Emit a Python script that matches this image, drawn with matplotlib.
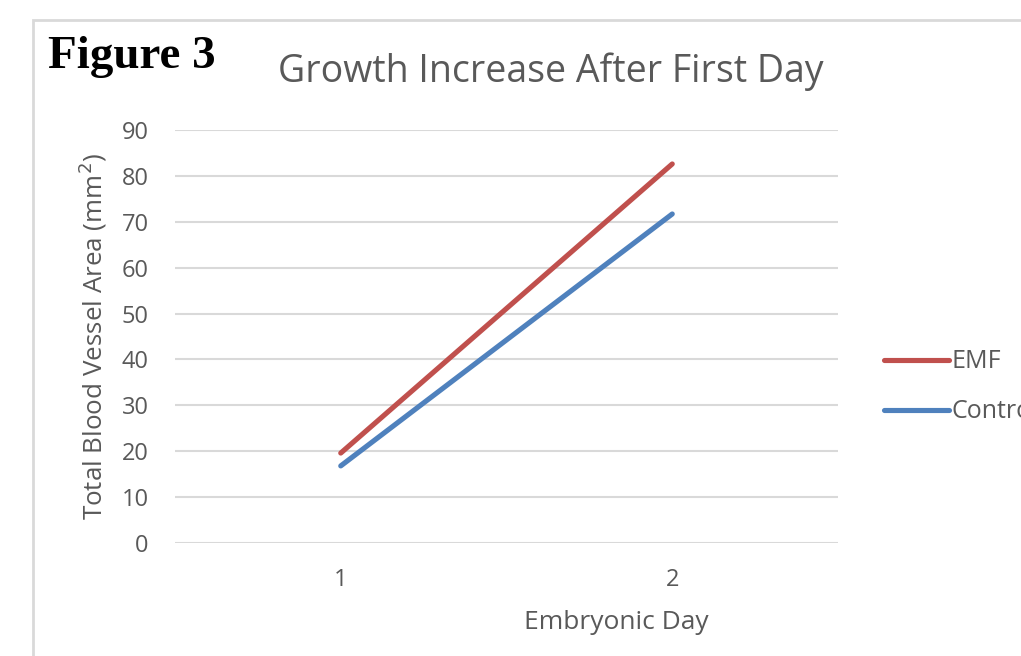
import matplotlib
matplotlib.use('Agg')
import matplotlib.pyplot as plt
from matplotlib.patches import Rectangle

days = [1, 2]
day_labels = ['1', '2']
emf = [19.6, 82.6]
control = [16.8, 71.7]
y_ticks = [0, 10, 20, 30, 40, 50, 60, 70, 80, 90]

RED = '#C0504D'
BLUE = '#4F81BD'
GRAY_TXT = '#595959'
GRID = '#D9D9D9'

plt.rcParams['font.family'] = ['Open Sans', 'DejaVu Sans']

fig = plt.figure(figsize=(10.21, 6.56), dpi=100)

# chart frame, runs off the right and bottom edge
fig.patches.append(Rectangle((33 / 1021, -0.1), 1.2, 1.1 - 20 / 656,
                             transform=fig.transFigure, fill=False,
                             edgecolor='#D9D9D9', linewidth=2))

ax = fig.add_axes([175 / 1021, 1 - 543 / 656, 663 / 1021, 413 / 656])
ax.plot(days, emf, color=RED, linewidth=3.7, solid_capstyle='round',
        label='EMF')
ax.plot(days, control, color=BLUE, linewidth=3.7, solid_capstyle='round',
        label='Control')

ax.set_xlim(0.5, 2.5)
ax.set_ylim(0, 90)
ax.set_xticks(days)
ax.set_xticklabels(day_labels)
ax.set_yticks(y_ticks)
ax.yaxis.grid(True, color=GRID, linewidth=1.5)
ax.set_axisbelow(True)
for s in ax.spines.values():
    s.set_visible(False)
ax.tick_params(length=0, colors=GRAY_TXT, labelsize=17)
ax.tick_params(axis='y', pad=19)
ax.tick_params(axis='x', pad=18)

ax.set_xlabel('Embryonic Day', color=GRAY_TXT, fontsize=19)
ax.xaxis.set_label_coords(0.665, -0.162)
ax.set_ylabel('Total Blood Vessel Area (mm$^2$)', color=GRAY_TXT,
              fontsize=18.7, labelpad=9)

fig.text(551 / 1021, 1 - 72 / 656, 'Growth Increase After First Day',
         ha='center', va='center', color=GRAY_TXT, fontsize=27)
fig.text(48 / 1021, 1 - 57 / 656, 'Figure 3', ha='left', va='center',
         fontsize=33.8, fontweight='bold', family='Liberation Serif')

# "Control" runs past the right edge of the chart frame
leg = fig.legend(loc='center left', bbox_to_anchor=(884 / 1021, 1 - 387 / 656),
                 frameon=False, fontsize=18, handlelength=2.6,
                 handletextpad=0.1, labelspacing=1.0, borderpad=0,
                 borderaxespad=0)
for t in leg.get_texts():
    t.set_color(GRAY_TXT)

fig.savefig('out.png', dpi=100)
